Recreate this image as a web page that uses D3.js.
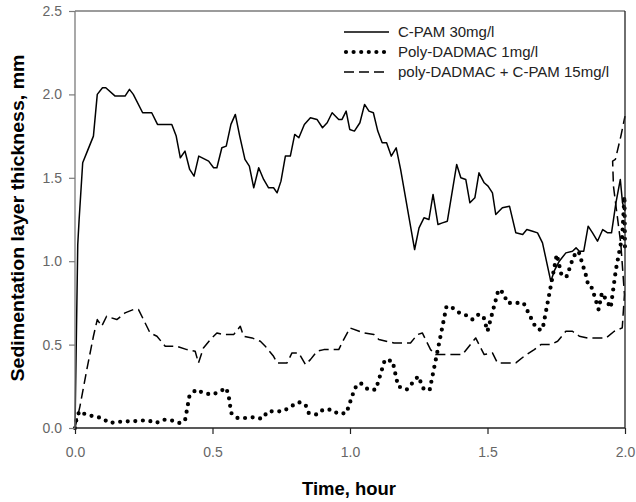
<!DOCTYPE html>
<html>
<head>
<meta charset="utf-8">
<script src="https://cdnjs.cloudflare.com/ajax/libs/d3/7.8.5/d3.min.js"></script>
<style>
  body { margin: 0; background: #fff; }
  svg { display: block; font-family: "Liberation Sans", Arial, sans-serif; }
</style>
</head>
<body>
<script>
// series: [time (hour), thickness (mm)]
var cpam = [
  [0.000, 0.00], [0.010, 1.10], [0.015, 1.25], [0.028, 1.59], [0.045, 1.66], [0.067, 1.75],
  [0.081, 2.00], [0.100, 2.04], [0.112, 2.04], [0.146, 1.99], [0.182, 1.99], [0.198, 2.03],
  [0.212, 2.00], [0.246, 1.89], [0.279, 1.89], [0.300, 1.82], [0.352, 1.82], [0.368, 1.75],
  [0.383, 1.62], [0.400, 1.66], [0.417, 1.55], [0.433, 1.51], [0.450, 1.63], [0.486, 1.60],
  [0.504, 1.56], [0.516, 1.56], [0.534, 1.68], [0.550, 1.69], [0.567, 1.82], [0.583, 1.88],
  [0.599, 1.75], [0.618, 1.61], [0.634, 1.57], [0.650, 1.44], [0.668, 1.56], [0.686, 1.49],
  [0.704, 1.44], [0.722, 1.44], [0.735, 1.41], [0.749, 1.48], [0.765, 1.63], [0.783, 1.63],
  [0.799, 1.76], [0.814, 1.74], [0.834, 1.82], [0.856, 1.86], [0.880, 1.85], [0.900, 1.80],
  [0.917, 1.83], [0.935, 1.89], [0.959, 1.85], [0.971, 1.85], [0.986, 1.90], [0.999, 1.79],
  [1.016, 1.78], [1.036, 1.83], [1.053, 1.94], [1.069, 1.90], [1.085, 1.89], [1.101, 1.78],
  [1.117, 1.71], [1.133, 1.71], [1.150, 1.63], [1.168, 1.68], [1.184, 1.55], [1.235, 1.07],
  [1.251, 1.20], [1.269, 1.26], [1.287, 1.25], [1.302, 1.40], [1.320, 1.22], [1.336, 1.23],
  [1.354, 1.24], [1.388, 1.58], [1.403, 1.50], [1.421, 1.49], [1.436, 1.35], [1.454, 1.38],
  [1.469, 1.53], [1.488, 1.47], [1.502, 1.45], [1.518, 1.41], [1.530, 1.28], [1.554, 1.32],
  [1.580, 1.33], [1.603, 1.17], [1.628, 1.16], [1.643, 1.19], [1.664, 1.18], [1.682, 1.17],
  [1.700, 1.11], [1.721, 0.95], [1.730, 0.88], [1.745, 0.95], [1.761, 1.00], [1.785, 1.05],
  [1.809, 1.06], [1.822, 1.08], [1.834, 1.06], [1.850, 1.06], [1.866, 1.21], [1.882, 1.17],
  [1.900, 1.12], [1.919, 1.19], [1.937, 1.17], [1.951, 1.17], [1.967, 1.35], [1.983, 1.49],
  [1.991, 1.35], [2.000, 1.30]
];

var polyDadmac = [
  [0.000, 0.00], [0.006, 0.06], [0.016, 0.10], [0.040, 0.08], [0.069, 0.07], [0.097, 0.06],
  [0.125, 0.03], [0.150, 0.035], [0.180, 0.04], [0.210, 0.04], [0.237, 0.045], [0.267, 0.045],
  [0.295, 0.03], [0.322, 0.05], [0.352, 0.045], [0.380, 0.03], [0.400, 0.045], [0.416, 0.19],
  [0.440, 0.23], [0.467, 0.21], [0.498, 0.20], [0.522, 0.215], [0.550, 0.24], [0.559, 0.19],
  [0.568, 0.09], [0.591, 0.06], [0.623, 0.06], [0.652, 0.065], [0.680, 0.055], [0.702, 0.10],
  [0.757, 0.10], [0.786, 0.13], [0.814, 0.155], [0.838, 0.14], [0.850, 0.09], [0.880, 0.08],
  [0.902, 0.11], [0.933, 0.11], [0.957, 0.085], [0.987, 0.09], [1.018, 0.24], [1.038, 0.27],
  [1.066, 0.23], [1.094, 0.23], [1.127, 0.41], [1.155, 0.40], [1.175, 0.25], [1.206, 0.23],
  [1.248, 0.31], [1.269, 0.23], [1.290, 0.23], [1.351, 0.73], [1.373, 0.72], [1.398, 0.69],
  [1.418, 0.68], [1.446, 0.65], [1.467, 0.68], [1.485, 0.67], [1.500, 0.58], [1.540, 0.83],
  [1.558, 0.81], [1.572, 0.75], [1.631, 0.75], [1.670, 0.62], [1.685, 0.59], [1.700, 0.59],
  [1.752, 1.04], [1.770, 0.91], [1.789, 0.91], [1.813, 1.03], [1.831, 1.06], [1.859, 0.91],
  [1.867, 0.85], [1.880, 0.84], [1.904, 0.71], [1.916, 0.81], [1.931, 0.77], [1.948, 0.72],
  [1.967, 0.95], [1.990, 1.15], [1.998, 1.39], [2.000, 1.05]
];

var mixed = [
  [0.000, 0.00], [0.018, 0.13], [0.043, 0.35], [0.067, 0.55], [0.081, 0.65], [0.097, 0.61],
  [0.115, 0.67], [0.152, 0.65], [0.182, 0.69], [0.212, 0.71], [0.231, 0.71], [0.273, 0.57],
  [0.298, 0.55], [0.328, 0.49], [0.370, 0.49], [0.407, 0.47], [0.437, 0.46], [0.449, 0.39],
  [0.467, 0.48], [0.492, 0.53], [0.516, 0.57], [0.540, 0.56], [0.577, 0.56], [0.601, 0.61],
  [0.613, 0.55], [0.644, 0.54], [0.674, 0.52], [0.692, 0.49], [0.722, 0.43], [0.735, 0.39],
  [0.771, 0.39], [0.789, 0.45], [0.814, 0.45], [0.838, 0.38], [0.856, 0.41], [0.880, 0.46],
  [0.905, 0.47], [0.959, 0.47], [0.977, 0.53], [1.000, 0.60], [1.050, 0.57], [1.087, 0.56],
  [1.105, 0.53], [1.160, 0.51], [1.220, 0.51], [1.245, 0.56], [1.263, 0.57], [1.293, 0.47],
  [1.311, 0.44], [1.366, 0.44], [1.409, 0.44], [1.457, 0.54], [1.488, 0.44], [1.518, 0.45],
  [1.536, 0.39], [1.603, 0.39], [1.633, 0.43], [1.670, 0.47], [1.694, 0.50], [1.730, 0.50],
  [1.755, 0.52], [1.785, 0.58], [1.809, 0.58], [1.834, 0.55], [1.864, 0.54], [1.900, 0.54],
  [1.931, 0.54], [1.961, 0.58], [1.990, 0.60], [1.998, 0.80], [1.985, 1.10], [1.958, 1.45],
  [1.955, 1.60], [1.965, 1.61], [1.985, 1.75], [2.000, 1.87]
];

var seriesNames = ["C-PAM 30mg/l", "Poly-DADMAC 1mg/l", "poly-DADMAC + C-PAM 15mg/l"];
var xTicks = [0, 0.5, 1.0, 1.5, 2.0];
var yTicks = [0, 0.5, 1.0, 1.5, 2.0, 2.5];
var xLabel = "Time, hour";
var yLabel = "Sedimentation layer thickness, mm";

var width = 636, height = 502;
var margin = { top: 11, right: 11, bottom: 74, left: 75 };

var x = d3.scaleLinear().domain([0, 2]).range([margin.left, width - margin.right]);
var y = d3.scaleLinear().domain([0, 2.5]).range([height - margin.bottom, margin.top]);

var svg = d3.select("body").append("svg")
    .attr("width", width).attr("height", height);

var line = d3.line().x(function(d) { return x(d[0]); }).y(function(d) { return y(d[1]); });

// series styles: solid, dotted, dashed
var styles = [
  { data: cpam, width: 1.5, dash: null, cap: "butt" },
  { data: polyDadmac, width: 4.2, dash: "0 7.6", cap: "round" },
  { data: mixed, width: 1.5, dash: "10 5", cap: "butt" }
];

styles.forEach(function(s) {
  svg.append("path").datum(s.data)
      .attr("fill", "none").attr("stroke", "#000")
      .attr("stroke-width", s.width)
      .attr("stroke-linejoin", "round")
      .attr("stroke-linecap", s.cap)
      .attr("stroke-dasharray", s.dash)
      .attr("d", line);
});

// frame
var x0 = x.range()[0], x1 = x.range()[1], y0 = y.range()[0], y1 = y.range()[1];
svg.append("line").attr("x1", x0).attr("x2", x0).attr("y1", y1).attr("y2", y0).attr("stroke", "#7a7a7a").attr("stroke-width", 1.3);
svg.append("line").attr("x1", x0).attr("x2", x1).attr("y1", y1).attr("y2", y1).attr("stroke", "#7a7a7a").attr("stroke-width", 1.3);
svg.append("line").attr("x1", x1).attr("x2", x1).attr("y1", y1).attr("y2", y0).attr("stroke", "#222").attr("stroke-width", 1.3);
svg.append("line").attr("x1", x0).attr("x2", x1).attr("y1", y0).attr("y2", y0).attr("stroke", "#222").attr("stroke-width", 1.3);

// axes
var xAxis = svg.append("g").attr("transform", "translate(0," + y0 + ")")
    .call(d3.axisBottom(x).tickValues(xTicks).tickFormat(d3.format(".1f")).tickSize(6).tickSizeOuter(0).tickPadding(13));
var yAxis = svg.append("g").attr("transform", "translate(" + x0 + ",0)")
    .call(d3.axisLeft(y).tickValues(yTicks).tickFormat(d3.format(".1f")).tickSize(6).tickSizeOuter(0).tickPadding(7));

[xAxis, yAxis].forEach(function(g) {
  g.select(".domain").remove();
  g.selectAll("text").attr("fill", "#666").style("font-size", "14px")
      .style("font-family", "'Liberation Sans', Arial, sans-serif");
});
xAxis.selectAll("line").attr("stroke", "#222").attr("stroke-width", 1.2);
yAxis.selectAll("line").attr("stroke", "#7a7a7a").attr("stroke-width", 1.2);

// axis titles
svg.append("text").attr("x", (x0 + x1) / 2 - 1).attr("y", 495)
    .attr("text-anchor", "middle").attr("font-weight", "bold").style("font-size", "19px")
    .attr("textLength", 94).attr("lengthAdjust", "spacingAndGlyphs")
    .text(xLabel);
svg.append("text").attr("transform", "translate(24," + 218 + ") rotate(-90)")
    .attr("text-anchor", "middle").attr("font-weight", "bold").style("font-size", "19px")
    .attr("textLength", 327).attr("lengthAdjust", "spacingAndGlyphs")
    .text(yLabel);

// legend
var legend = svg.append("g");
styles.forEach(function(s, i) {
  var ly = 32 + i * 20;
  legend.append("line").attr("x1", s.cap === "round" ? 346 : 344).attr("x2", 389)
      .attr("y1", ly).attr("y2", ly)
      .attr("stroke", "#000").attr("stroke-width", s.width)
      .attr("stroke-linecap", s.cap).attr("stroke-dasharray", s.dash);
  legend.append("text").attr("x", 398).attr("y", ly + 5)
      .attr("fill", "#222").style("font-size", "15px")
      .text(seriesNames[i]);
});
</script>
</body>
</html>
